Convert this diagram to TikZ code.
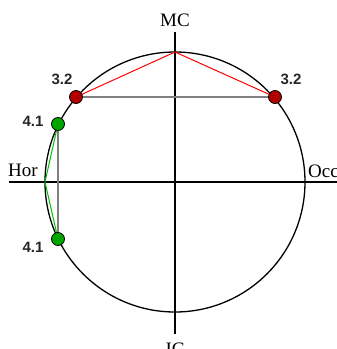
\documentclass[tikz,border=0pt]{standalone}
\usepackage{fontspec}
\setmainfont{Liberation Serif}
\newfontfamily\lsans{Liberation Sans}
\begin{document}
\begin{tikzpicture}[x=1pt,y=-1pt,
  axisline/.style={line width=2.6pt,black},
  dotred/.style={circle,draw=black,line width=0.8pt,fill=red!70!black,minimum size=13pt,inner sep=0pt},
  dotgreen/.style={circle,draw=black,line width=0.8pt,fill=green!65!black,minimum size=13pt,inner sep=0pt},
  numlbl/.style={font=\lsans\bfseries\fontsize{15}{16}\selectfont,text=black!85,inner sep=0pt},
  axlbl/.style={font=\fontsize{19}{20}\selectfont,inner sep=0pt}]
\useasboundingbox (0,0) rectangle (337,349);
\coordinate (O) at (175,182);
\coordinate (top) at (175,52);
\coordinate (left) at (45,182);
% axes
\coordinate (vt) at (175,32);
\coordinate (vb) at (175,334);
\coordinate (hl) at (9,182);
\coordinate (hr) at (340,182);
\draw[axisline] (vt) -- (vb);
\draw[axisline] (hl) -- (hr);
% circle
\draw[line width=1.3pt] (O) circle (130);
% points
\coordinate (r1) at (76,97);
\coordinate (r2) at (275,97);
\coordinate (g1) at (58,124);
\coordinate (g2) at (58,239);
% connectors
\draw[gray,line width=2pt] (r1) -- (r2);
\draw[red,line width=1pt] (r1) -- (top) -- (r2);
\draw[gray,line width=1.3pt] (g1) -- (g2);
\draw[green!75!black,line width=1pt] (g1) -- (left) -- (g2);
% dots on top
\node[dotred] (d1) at (r1) {};
\node[dotred] (d2) at (r2) {};
\node[dotgreen] (d3) at (g1) {};
\node[dotgreen] (d4) at (g2) {};
% labels
\node[axlbl] (mc) at (175,20) {MC};
\node[axlbl] (ic) at (175,349) {IC};
\node[axlbl,anchor=west] (hor) at (8,170) {Hor};
\node[axlbl,anchor=west] (occ) at (308,171) {Occ};
\node[numlbl] (l1) at (62,79) {3.2};
\node[numlbl] (l2) at (291,79) {3.2};
\node[numlbl] (l3) at (33,121) {4.1};
\node[numlbl] (l4) at (33,247) {4.1};
\end{tikzpicture}
\end{document}
